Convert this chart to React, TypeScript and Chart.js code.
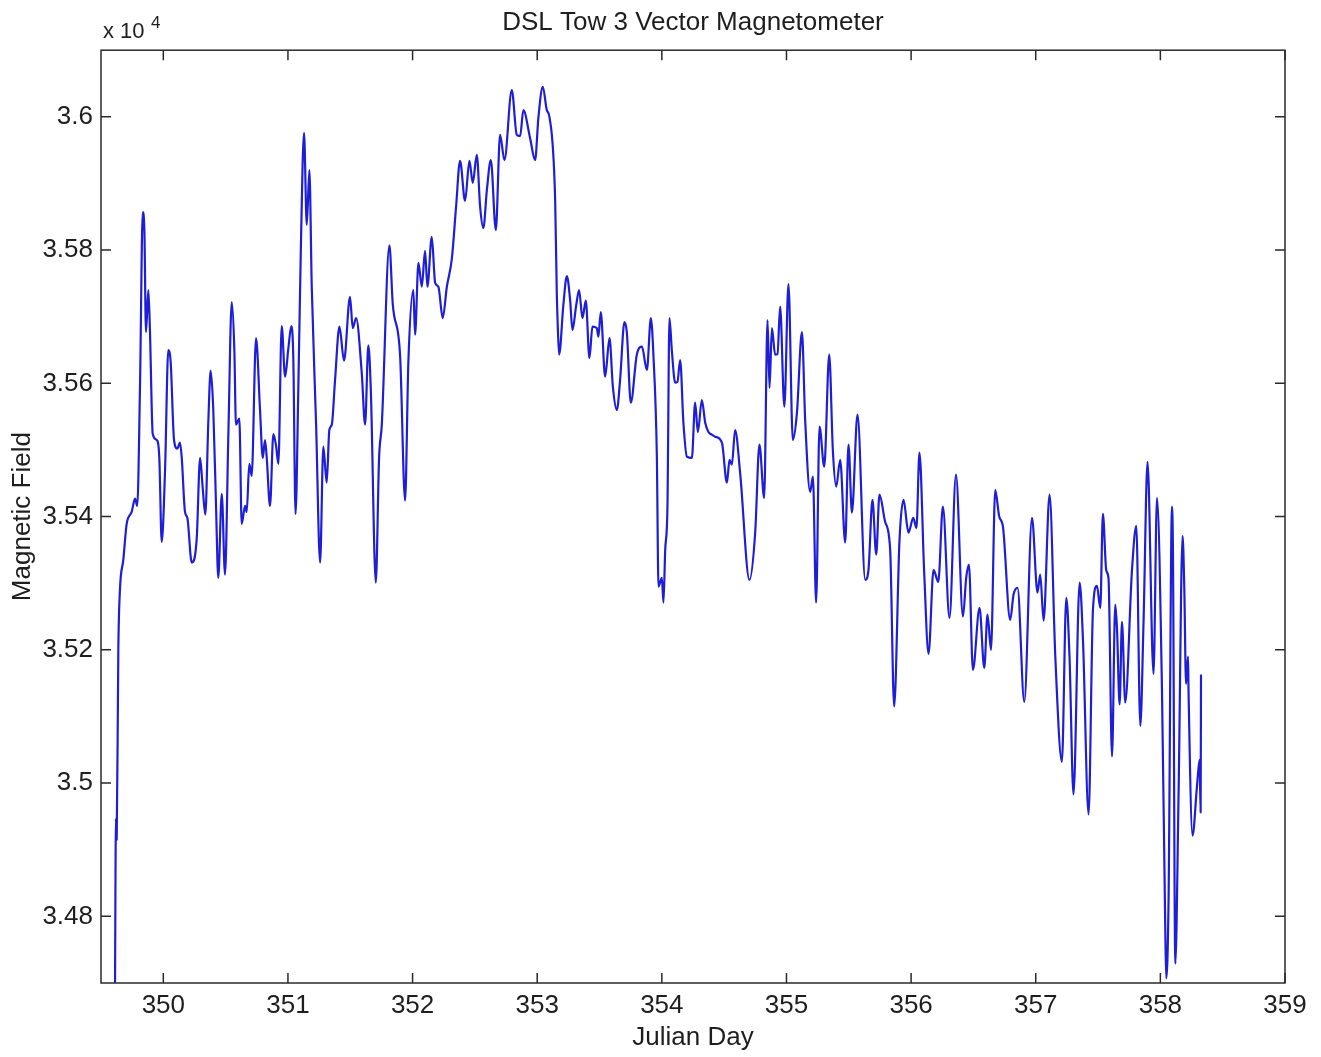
import React, { useEffect, useRef } from "react";
import { Chart, registerables } from "chart.js";

Chart.register(...registerables);

const chartTitle = "DSL Tow 3 Vector Magnetometer";
const xTitle = "Julian Day";
const yTitle = "Magnetic Field";

const xTicks = [350, 351, 352, 353, 354, 355, 356, 357, 358, 359];
const yTicks = [34800, 35000, 35200, 35400, 35600, 35800, 36000];

// Julian day of each sample
const julianDay = [
  349.612, 349.620, 349.626, 349.639, 349.652, 349.679, 349.706, 349.746, 349.773, 349.791,
  349.813, 349.835, 349.848, 349.861, 349.880, 349.893, 349.915, 349.947, 349.968, 349.987,
  350.014, 350.040, 350.059, 350.086, 350.112, 350.134, 350.148, 350.174, 350.193, 350.228,
  350.268, 350.295, 350.316, 350.337, 350.361, 350.380, 350.401, 350.423, 350.441, 350.469,
  350.495, 350.522, 350.549, 350.570, 350.583, 350.610, 350.629, 350.656, 350.669, 350.690,
  350.709, 350.744, 350.776, 350.798, 350.816, 350.830, 350.856, 350.883, 350.905, 350.923,
  350.950, 350.977, 351.003, 351.027, 351.043, 351.061, 351.083, 351.103, 351.129, 351.151,
  351.172, 351.191, 351.226, 351.258, 351.284, 351.311, 351.332, 351.352, 351.378, 351.413,
  351.450, 351.498, 351.520, 351.547, 351.592, 351.619, 351.645, 351.665, 351.705, 351.731,
  351.753, 351.814, 351.841, 351.900, 351.940, 351.966, 352.006, 352.020, 352.047, 352.074,
  352.100, 352.119, 352.154, 352.181, 352.207, 352.242, 352.275, 352.315, 352.349, 352.381,
  352.421, 352.456, 352.483, 352.515, 352.542, 352.568, 352.596, 352.628, 352.668, 352.702,
  352.737, 352.796, 352.836, 352.863, 352.889, 352.943, 352.983, 353.010, 353.045, 353.077,
  353.098, 353.144, 353.157, 353.164, 353.176, 353.210, 353.238, 353.264, 353.283, 353.312,
  353.336, 353.363, 353.390, 353.419, 353.443, 353.478, 353.491, 353.510, 353.545, 353.580,
  353.607, 353.639, 353.665, 353.700, 353.719, 353.751, 353.799, 353.840, 353.880, 353.912,
  353.933, 353.960, 353.973, 354.000, 354.013, 354.027, 354.045, 354.061, 354.080, 354.107,
  354.125, 354.147, 354.173, 354.201, 354.241, 354.267, 354.289, 354.321, 354.348, 354.374,
  354.401, 354.428, 354.482, 354.522, 354.543, 354.562, 354.588, 354.628, 354.703, 354.749,
  354.783, 354.821, 354.848, 354.864, 354.883, 354.909, 354.928, 354.949, 354.983, 355.016,
  355.051, 355.084, 355.124, 355.150, 355.190, 355.212, 355.238, 355.265, 355.303, 355.343,
  355.372, 355.399, 355.431, 355.471, 355.498, 355.525, 355.570, 355.632, 355.658, 355.690,
  355.720, 355.746, 355.792, 355.832, 355.864, 355.907, 355.939, 355.979, 356.017, 356.043,
  356.067, 356.105, 356.140, 356.180, 356.218, 356.255, 356.308, 356.360, 356.416, 356.442,
  356.464, 356.496, 356.549, 356.587, 356.613, 356.641, 356.675, 356.707, 356.737, 356.795,
  356.822, 356.854, 356.908, 356.970, 357.014, 357.036, 357.063, 357.111, 357.157, 357.210,
  357.245, 357.271, 357.303, 357.352, 357.379, 357.424, 357.459, 357.491, 357.518, 357.539,
  357.566, 357.584, 357.612, 357.638, 357.652, 357.673, 357.692, 357.718, 357.772, 357.807,
  357.839, 357.865, 357.897, 357.945, 357.973, 358.013, 358.039, 358.047, 358.066, 358.093,
  358.101, 358.120, 358.146, 358.178, 358.192, 358.206, 358.222, 358.226, 358.258, 358.294,
  358.315, 358.323, 358.326,
];

// Magnetic field (nT) of each sample
const magneticField = [
  34675, 34947, 34915, 35200, 35290, 35335, 35389, 35407, 35427, 35416,
  35596, 35857, 35830, 35677, 35740, 35677, 35524, 35515, 35488, 35362,
  35470, 35650, 35632, 35515, 35502, 35511, 35488, 35407, 35398, 35331,
  35367, 35488, 35443, 35403, 35542, 35619, 35560, 35416, 35308, 35434,
  35313, 35524, 35722, 35650, 35538, 35547, 35389, 35416, 35407, 35479,
  35461, 35668, 35560, 35488, 35515, 35488, 35416, 35524, 35506, 35479,
  35686, 35610, 35652, 35686, 35638, 35404, 35590, 35797, 35976, 35838,
  35920, 35745, 35538, 35331, 35505, 35451, 35530, 35538, 35605, 35685,
  35634, 35730, 35683, 35698, 35616, 35538, 35657, 35590, 35301, 35487,
  35538, 35807, 35719, 35641, 35424, 35631, 35740, 35673, 35781, 35745,
  35799, 35745, 35820, 35751, 35745, 35698, 35745, 35787, 35865, 35934,
  35874, 35934, 35901, 35943, 35865, 35833, 35890, 35935, 35830, 35973,
  35935, 36040, 35973, 35971, 36010, 35968, 35935, 36000, 36045, 36010,
  36000, 35875, 35736, 35691, 35643, 35718, 35761, 35725, 35680, 35716,
  35740, 35698, 35724, 35638, 35685, 35683, 35670, 35707, 35610, 35668,
  35595, 35560, 35605, 35692, 35677, 35571, 35643, 35655, 35620, 35698,
  35640, 35490, 35295, 35308, 35271, 35350, 35415, 35698, 35650, 35601,
  35602, 35635, 35541, 35490, 35488, 35571, 35527, 35575, 35541, 35527,
  35523, 35520, 35511, 35451, 35485, 35478, 35530, 35466, 35305, 35376,
  35508, 35428, 35695, 35593, 35683, 35643, 35644, 35715, 35565, 35749,
  35515, 35556, 35677, 35545, 35437, 35460, 35271, 35535, 35475, 35643,
  35500, 35445, 35485, 35361, 35508, 35406, 35553, 35305, 35320, 35425,
  35343, 35433, 35392, 35350, 35115, 35365, 35425, 35376, 35398, 35383,
  35496, 35316, 35194, 35320, 35302, 35415, 35248, 35463, 35250, 35308,
  35328, 35170, 35263, 35173, 35253, 35200, 35440, 35400, 35385, 35245,
  35283, 35293, 35122, 35398, 35286, 35313, 35244, 35433, 35190, 35032,
  35278, 35190, 34983, 35301, 35215, 34953, 35260, 35296, 35263, 35404,
  35319, 35307, 35040, 35268, 35232, 35118, 35242, 35121, 35319, 35386,
  35086, 35242, 35482, 35164, 35428, 35139, 34786, 34707, 34828, 35415,
  35346, 34729, 34983, 35371, 35293, 35149, 35190, 35139, 34921, 34996,
  35035, 34956, 35163,
];

const FONT = '"Liberation Sans", Arial, Helvetica, sans-serif';
const TEXT_COLOR = "#1e1e1e";
const AXIS_COLOR = "#2a2a2a";
const LINE_COLOR = "#1e1ed8";

const boxPlugin = {
  id: "matlabBox",
  afterDraw(chart: any) {
    const { ctx, chartArea, scales } = chart;
    const { left, top, right, bottom } = chartArea;
    const x = scales.x;
    const y = scales.y;
    ctx.save();
    ctx.strokeStyle = AXIS_COLOR;
    ctx.lineWidth = 1.5;
    ctx.strokeRect(left, top, right - left, bottom - top);
    const L = 10;
    ctx.beginPath();
    xTicks.forEach((v) => {
      const p = x.getPixelForValue(v);
      ctx.moveTo(p, bottom);
      ctx.lineTo(p, bottom - L);
      ctx.moveTo(p, top);
      ctx.lineTo(p, top + L);
    });
    yTicks.forEach((v) => {
      const p = y.getPixelForValue(v);
      ctx.moveTo(left, p);
      ctx.lineTo(left + L, p);
      ctx.moveTo(right, p);
      ctx.lineTo(right - L, p);
    });
    ctx.stroke();
    // exponent label
    ctx.fillStyle = TEXT_COLOR;
    ctx.textBaseline = "alphabetic";
    ctx.textAlign = "left";
    ctx.font = `22px ${FONT}`;
    ctx.fillText("x 10", left + 2, top - 12);
    ctx.font = `17px ${FONT}`;
    ctx.fillText("4", left + 50, top - 22);
    ctx.restore();
  },
};

export default function App() {
  const canvasRef = useRef<HTMLCanvasElement | null>(null);

  useEffect(() => {
    const canvas = canvasRef.current;
    if (!canvas) return;
    const points = julianDay.map((d, i) => ({ x: d, y: magneticField[i] }));
    const chart = new Chart(canvas, {
      type: "line",
      data: {
        datasets: [
          {
            label: "Magnetic Field",
            data: points,
            borderColor: LINE_COLOR,
            borderWidth: 2.2,
            borderJoinStyle: "round",
            pointRadius: 0,
            cubicInterpolationMode: "monotone",
            fill: false,
            clip: 0,
          } as any,
        ],
      },
      options: {
        animation: false,
        responsive: false,
        maintainAspectRatio: false,
        layout: { padding: { left: 0, right: 36, top: 0, bottom: 0 } },
        plugins: {
          legend: { display: false },
          tooltip: { enabled: false },
          title: {
            display: true,
            text: chartTitle,
            fullSize: false,
            color: TEXT_COLOR,
            font: { family: FONT, size: 26, weight: "normal", lineHeight: 1.2 },
            padding: { top: 7, bottom: 12 },
          },
        },
        scales: {
          x: {
            type: "linear",
            min: 349.5,
            max: 359,
            grid: { display: false, drawTicks: false },
            border: { display: false },
            afterBuildTicks: (scale: any) => {
              scale.ticks = xTicks.map((v) => ({ value: v }));
            },
            afterFit: (scale: any) => {
              scale.height = 74;
            },
            ticks: {
              autoSkip: false,
              maxRotation: 0,
              padding: 7,
              color: TEXT_COLOR,
              font: { family: FONT, size: 26 },
              callback: (v: any) => String(v),
            },
            title: {
              display: true,
              text: xTitle,
              color: TEXT_COLOR,
              font: { family: FONT, size: 26, lineHeight: 1.2 },
              padding: { top: 0, bottom: 4 },
            },
          },
          y: {
            type: "linear",
            min: 34700,
            max: 36100,
            grid: { display: false, drawTicks: false },
            border: { display: false },
            afterBuildTicks: (scale: any) => {
              scale.ticks = yTicks.map((v) => ({ value: v }));
            },
            afterFit: (scale: any) => {
              scale.width = 101;
            },
            ticks: {
              autoSkip: false,
              padding: 8,
              color: TEXT_COLOR,
              font: { family: FONT, size: 26 },
              callback: (v: any) => String(Number((Number(v) / 10000).toFixed(2))),
            },
            title: {
              display: true,
              text: yTitle,
              color: TEXT_COLOR,
              font: { family: FONT, size: 26, lineHeight: 1.2 },
              padding: { top: 7, bottom: 0 },
            },
          },
        },
      },
      plugins: [boxPlugin],
    });
    return () => chart.destroy();
  }, []);

  return (
    <div
      style={{
        position: "absolute",
        left: 0,
        top: 0,
        width: 1321,
        height: 1057,
        background: "#ffffff",
      }}
    >
      <canvas ref={canvasRef} width={1321} height={1057} style={{ width: 1321, height: 1057, display: "block" }} />
    </div>
  );
}
